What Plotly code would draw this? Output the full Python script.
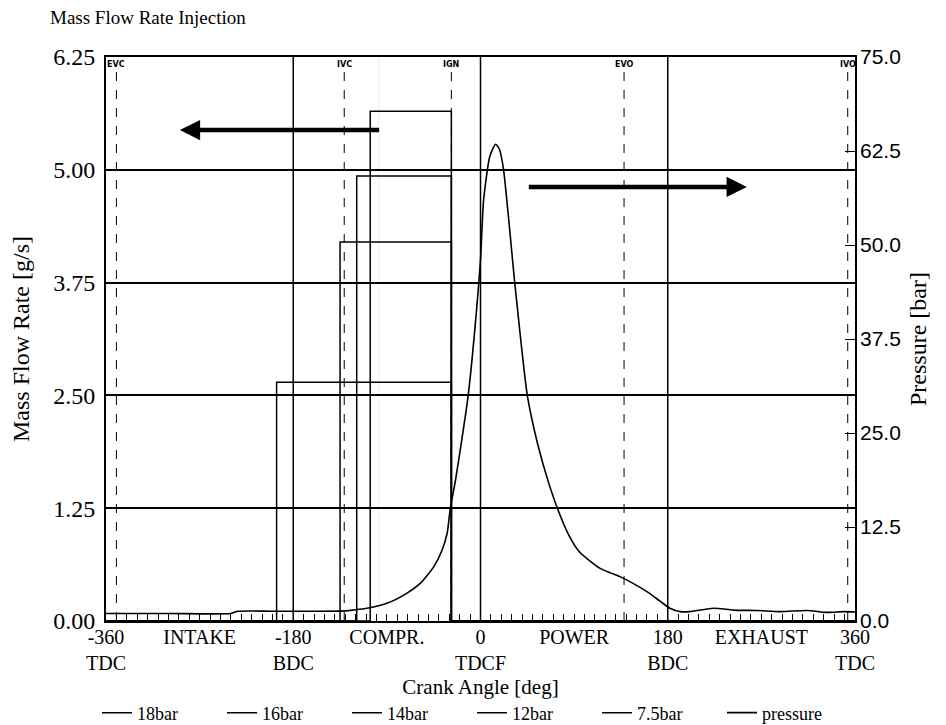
import plotly.graph_objects as go

# ---------------- data ----------------
crank_angle_ticks = [-360, -270, -180, -90, 0, 90, 180, 270, 360]
crank_angle_labels = ["-360<br>TDC", "INTAKE", "-180<br>BDC", "COMPR.", "0<br>TDCF",
                      "POWER", "180<br>BDC", "EXHAUST", "360<br>TDC"]

series_names = ["18bar", "16bar", "14bar", "12bar", "7.5bar"]
injection_rate = [6.35, 5.65, 4.93, 4.20, 2.645]      # g/s (18bar lies off-scale / faded in scan)
injection_start = [-98, -106, -119, -135, -196]       # deg
injection_end = [-28, -28, -28, -28, -28]             # deg
series_colors = ["rgba(0,0,0,0.04)", "black", "black", "black", "black"]

pressure_angle = [-360, -300, -240, -233, -200, -160, -130, -122, -109, -90, -71, -58,
                  -45, -37, -32, -29, -24, -18, -12, -4, 0, 3, 9, 14.5, 18, 22, 33, 45,
                  55, 65, 75, 85, 95, 105, 115, 125, 134, 144, 160, 173, 182, 192, 201,
                  224, 243, 266, 288, 314, 333, 349, 360]
pressure_bar = [1.0, 1.0, 1.0, 1.3, 1.3, 1.3, 1.35, 1.46, 1.69, 2.35, 3.68, 5.0,
                7.2, 9.4, 11.7, 15.0, 18.75, 24.1, 29.8, 41.0, 48.0, 56.0, 61.8, 63.4, 62.8,
                60.2, 44.9, 30.0, 23.5, 18.6, 14.6, 11.4, 9.2, 8.0, 7.0, 6.4, 5.9, 5.2, 3.9,
                2.6, 1.7, 1.25, 1.25, 1.7, 1.45, 1.4, 1.25, 1.4, 1.15, 1.25, 1.2]

valve_events = ["EVC", "IVC", "IGN", "EVO", "IVO"]
valve_event_angle = [-350, -131, -28, 138, 353]
dead_centre_angle = [-180, 0, 180]

flow_ticks = [0, 1.25, 2.5, 3.75, 5.0, 6.25]
pressure_ticks = [0, 12.5, 25, 37.5, 50, 62.5, 75]
minor_ticks = list(range(-350, 360, 10))

# ---------------- figure ----------------
fig = go.Figure()

for name, rate, t0, t1, col in zip(series_names, injection_rate, injection_start,
                                   injection_end, series_colors):
    visible_line = (col == "black")
    if not visible_line:
        # legend entry (the curve itself is faded out in the scanned original)
        fig.add_trace(go.Scatter(x=[None], y=[None], name=name, legendgroup=name,
                                 mode="lines", line=dict(color="black", width=1.5)))
    fig.add_trace(go.Scatter(
        x=[-360, t0, t1, 360], y=[0, rate, 0, 0], name=name, legendgroup=name,
        showlegend=visible_line,
        mode="lines", line=dict(color=col, width=1.5, shape="hv"), yaxis="y"))

fig.add_trace(go.Scatter(
    x=pressure_angle, y=pressure_bar, name="pressure", mode="lines",
    line=dict(color="black", width=1.6, shape="spline", smoothing=0.6),
    yaxis="y2"))

shapes = []
for a in dead_centre_angle:
    shapes.append(dict(type="line", xref="x", yref="paper", x0=a, x1=a, y0=0, y1=1,
                       line=dict(color="black", width=1.5), layer="below"))
for a in valve_event_angle:
    shapes.append(dict(type="line", xref="x", yref="paper", x0=a, x1=a, y0=0, y1=0.975,
                       line=dict(color="black", width=1, dash="dash"), layer="below"))

annotations = []
for lab, a in zip(valve_events, valve_event_angle):
    annotations.append(dict(x=a, y=0.998, xref="x", yref="paper", text="<b>%s</b>" % lab,
                            showarrow=False, yanchor="top", xanchor="center",
                            font=dict(family="DejaVu Sans", size=8, color="black")))
# direction arrows
annotations.append(dict(x=-289, y=5.44, ax=-96, ay=5.44, xref="x", yref="y", axref="x", ayref="y",
                        text="", showarrow=True, arrowhead=2, arrowsize=0.9, arrowwidth=4.5,
                        arrowcolor="black"))
annotations.append(dict(x=256, y=4.81, ax=45, ay=4.81, xref="x", yref="y", axref="x", ayref="y",
                        text="", showarrow=True, arrowhead=2, arrowsize=0.9, arrowwidth=4.5,
                        arrowcolor="black"))

W, H = 938, 717
fig.update_layout(
    width=W, height=H,
    margin=dict(l=98, r=91, t=49, b=104, autoexpand=False),
    paper_bgcolor="white", plot_bgcolor="white",
    font=dict(family="Liberation Serif", color="black", size=18),
    title=dict(text="Mass Flow Rate Injection", x=42 / W, xanchor="left", xref="container",
               y=1 - 9 / H, yanchor="middle", yref="container", pad=dict(l=0, t=0),
               font=dict(family="Liberation Serif", size=19, color="black")),
    showlegend=True,
    legend=dict(orientation="h", x=-0.012, xanchor="left", y=-0.163, yanchor="middle",
                font=dict(size=18), itemwidth=30, entrywidth=80, entrywidthmode="pixels",
                bgcolor="rgba(0,0,0,0)", traceorder="normal"),
    shapes=shapes, annotations=annotations,
    xaxis=dict(range=[-360, 360], tickmode="array", tickvals=crank_angle_ticks,
               ticktext=crank_angle_labels, ticks="inside", ticklen=7, tickcolor="black",
               showgrid=False, zeroline=False, showline=True, mirror=True,
               linecolor="black", linewidth=2, tickfont=dict(size=20), ticklabelstandoff=-3,
               minor=dict(tickvals=minor_ticks, ticks="inside", ticklen=7, tickcolor="black",
                          showgrid=False),
               title=dict(text="Crank Angle [deg]", font=dict(size=21), standoff=6),
               automargin=False),
    yaxis=dict(range=[0, 6.25], tickmode="array", tickvals=flow_ticks,
               ticktext=["%.2f" % v for v in flow_ticks], ticks="", showgrid=True,
               gridcolor="black", gridwidth=1.5, zeroline=False, showline=True, mirror=True,
               linecolor="black", linewidth=2, tickfont=dict(size=24), ticklabelstandoff=4,
               title=dict(text="Mass Flow Rate [g/s]", font=dict(size=24), standoff=26),
               automargin=False),
    yaxis2=dict(range=[0, 75], overlaying="y", side="right", tickmode="array",
                tickvals=pressure_ticks, ticktext=["%.1f" % v for v in pressure_ticks],
                ticks="inside", ticklen=10, tickcolor="black", showgrid=False, zeroline=False,
                showline=False, tickfont=dict(family="Liberation Sans", size=21),
                ticklabelstandoff=4,
                title=dict(text="Pressure [bar]", font=dict(size=24), standoff=9),
                automargin=False),
)

fig.write_html("out.html")
